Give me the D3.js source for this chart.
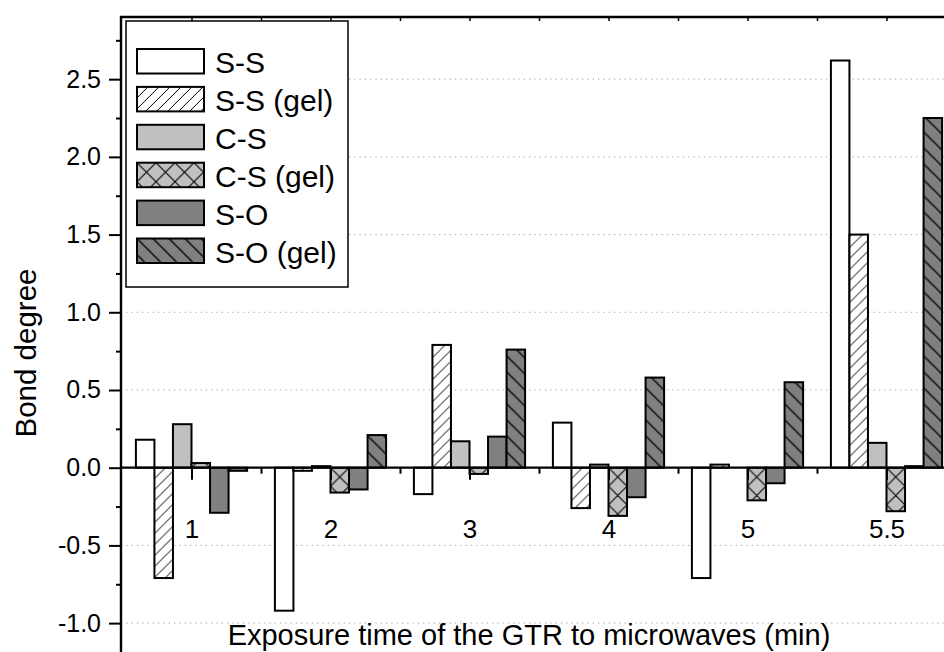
<!DOCTYPE html>
<html><head><meta charset="utf-8">
<script src="https://cdn.jsdelivr.net/npm/d3@7"></script>
<style>
body{margin:0;background:#fff}
svg{display:block}
text{font-family:"Liberation Sans",Arial,Helvetica,sans-serif;fill:#000}
</style>
</head><body>
<svg id="c" width="944" height="652"></svg>
<script>
// ---- data ----
const categories = ["1","2","3","4","5","5.5"];
const seriesNames = ["S-S","S-S (gel)","C-S","C-S (gel)","S-O","S-O (gel)"];
const ssValues    = [0.18,-0.92,-0.17, 0.29,-0.71, 2.62];
const ssGelValues = [-0.71,-0.02, 0.79,-0.26, 0.02, 1.50];
const csValues    = [0.28, 0.01, 0.17, 0.02, 0.00, 0.16];
const csGelValues = [0.03,-0.16,-0.04,-0.31,-0.21,-0.28];
const soValues    = [-0.29,-0.14, 0.20,-0.19,-0.10, 0.01];
const soGelValues = [-0.02, 0.21, 0.76, 0.58, 0.55, 2.25];
const yTickValues = [-1.0,-0.5,0.0,0.5,1.0,1.5,2.0,2.5];
const yMinorTickValues = [-0.75,-0.25,0.25,0.75,1.25,1.75,2.25,2.75];
const yLabel = "Bond degree";
const xLabel = "Exposure time of the GTR to microwaves (min)";

const seriesValues = [ssValues, ssGelValues, csValues, csGelValues, soValues, soGelValues];
const seriesStyle = [
  {fill:"#ffffff", pat:null},
  {fill:"#ffffff", pat:"fwd"},
  {fill:"#c0c0c0", pat:null},
  {fill:"#c0c0c0", pat:"cross"},
  {fill:"#808080", pat:null},
  {fill:"#808080", pat:"back"}
];

const svg = d3.select("#c");
const defs = svg.append("defs");

const L = 121, T = 17, B = 654.2;
const x = d3.scaleBand().domain(categories).range([122, 956]).paddingInner(0.2).paddingOuter(0.1);
const x1 = d3.scaleBand().domain(seriesNames).range([0, x.bandwidth()]);
const y = d3.scaleLinear().domain([-1.2, 2.9]).range([B, T]);
const xi = d3.scaleLinear().domain([0, categories.length]).range([122, 956]);

function makePattern(id, kind, bg, ox, oy, cell) {
  let s;
  if (kind === "fwd") s = 11;
  else if (kind === "back") s = 16;
  else s = cell || 19;
  const p = defs.append("pattern").attr("id", id).attr("patternUnits", "userSpaceOnUse")
    .attr("x", ox).attr("y", oy).attr("width", s).attr("height", s);
  p.append("rect").attr("width", s).attr("height", s).attr("fill", bg);
  const g = p.append("g").attr("stroke", "#000").attr("fill", "none");
  if (kind === "fwd") {
    g.attr("stroke-width", 1);
    g.append("path").attr("d", `M0,${s} L${s},0 M${-2},2 L2,${-2} M${s-2},${s+2} L${s+2},${s-2}`);
  } else if (kind === "back") {
    g.attr("stroke-width", 1.3);
    g.append("path").attr("d", `M0,0 L${s},${s} M${-2},${s-2} L2,${s+2} M${s-2},-2 L${s+2},2`);
  } else {
    g.attr("stroke-width", 1.1);
    g.append("path").attr("d", `M0,0 L${s},${s} M0,${s} L${s},0`);
  }
  return `url(#${id})`;
}

// ---- grid ----
svg.append("g").selectAll("line").data(yTickValues.filter(v => v !== 0)).join("line")
  .attr("x1", L).attr("x2", 944).attr("y1", d => y(d)).attr("y2", d => y(d))
  .attr("stroke", "#a8a8a8").attr("stroke-width", 1).attr("stroke-dasharray", "1.3,4");

// ---- bars ----
const bars = [];
seriesValues.forEach((vals, j) => {
  vals.forEach((v, i) => bars.push({j, i, v, cat: categories[i], ser: seriesNames[j]}));
});
const gBars = svg.append("g");
bars.forEach(d => {
  const bx = x(d.cat) + x1(d.ser);
  const y0 = y(0), yv = y(d.v);
  const st = seriesStyle[d.j];
  const fill = st.pat ? makePattern(`p${d.j}_${d.i}`, st.pat, st.fill, bx, y0, x1.bandwidth()) : st.fill;
  gBars.append("rect")
    .attr("x", bx).attr("width", x1.bandwidth())
    .attr("y", Math.min(y0, yv)).attr("height", Math.abs(yv - y0))
    .attr("fill", fill).attr("stroke", "#000").attr("stroke-width", 2);
});

// ---- zero axis with category ticks ----
const centers = categories.map((c, i) => i + 0.5);
const bounds = d3.range(1, categories.length);
const gx = svg.append("g").attr("transform", `translate(0,${y(0)})`);
gx.append("line").attr("x1", L).attr("x2", 944).attr("stroke", "#000").attr("stroke-width", 2.2);
gx.append("g").call(d3.axisBottom(xi).tickValues(centers).tickSize(12).tickPadding(40)
    .tickFormat((d, k) => categories[k]))
  .call(g => g.select(".domain").remove())
  .call(g => g.selectAll("line").attr("stroke-width", 2))
  .call(g => g.selectAll("text").attr("font-size", 26).attr("font-family", "Liberation Sans, Arial, sans-serif"));
gx.append("g").call(d3.axisBottom(xi).tickValues(bounds).tickSize(6).tickFormat(""))
  .call(g => g.select(".domain").remove())
  .call(g => g.selectAll("line").attr("stroke-width", 2));

// ---- top axis ticks ----
const gt = svg.append("g").attr("transform", `translate(0,${T})`);
gt.append("g").call(d3.axisTop(xi).tickValues(centers.concat(bounds)).tickSize(-4).tickFormat(""))
  .call(g => g.select(".domain").remove())
  .call(g => g.selectAll("line").attr("stroke-width", 1.5));

// ---- y axis ----
const gy = svg.append("g").attr("transform", `translate(${L},0)`);
gy.append("g").call(d3.axisLeft(y).tickValues(yTickValues).tickSize(12).tickPadding(8)
    .tickFormat(d => d.toFixed(1)))
  .call(g => g.select(".domain").remove())
  .call(g => g.selectAll("line").attr("stroke-width", 2))
  .call(g => g.selectAll("text").attr("font-size", 25).attr("font-family", "Liberation Sans, Arial, sans-serif"));
gy.append("g").call(d3.axisLeft(y).tickValues(yMinorTickValues).tickSize(5).tickFormat(""))
  .call(g => g.select(".domain").remove())
  .call(g => g.selectAll("line").attr("stroke-width", 2));

// ---- frame ----
svg.append("path").attr("d", `M${L},652 L${L},${T} L944,${T}`)
  .attr("fill", "none").attr("stroke", "#000").attr("stroke-width", 2.4);

// ---- legend ----
const lg = svg.append("g");
lg.append("rect").attr("x", 126).attr("y", 21).attr("width", 222).attr("height", 266)
  .attr("fill", "#fff").attr("stroke", "#000").attr("stroke-width", 1.5);
seriesNames.forEach((name, j) => {
  const ry = 49 + j * 37.9;
  const st = seriesStyle[j];
  const fill = st.pat ? makePattern(`lp${j}`, st.pat, st.fill, 137, ry, 19) : st.fill;
  lg.append("rect").attr("x", 137).attr("y", ry).attr("width", 67).attr("height", 24.5)
    .attr("fill", fill).attr("stroke", "#000").attr("stroke-width", 2);
  lg.append("text").attr("x", 215).attr("y", ry + 24).attr("font-size", 30).text(name);
});

// ---- titles ----
svg.append("text").attr("x", 529).attr("y", 645).attr("text-anchor", "middle")
  .attr("font-size", 29).text(xLabel);
svg.append("text").attr("transform", "translate(36,353) rotate(-90)").attr("text-anchor", "middle")
  .attr("font-size", 29.5).text(yLabel);
</script>
</body></html>
